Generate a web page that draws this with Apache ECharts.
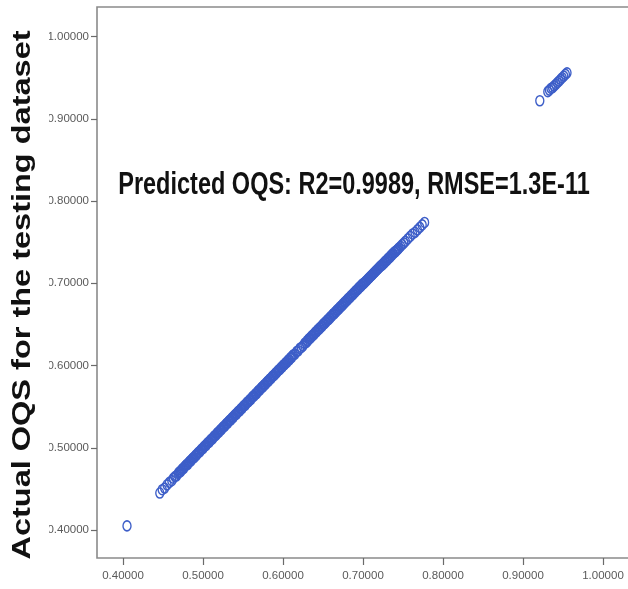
<!DOCTYPE html>
<html>
<head>
<meta charset="utf-8">
<script src="https://cdn.jsdelivr.net/npm/echarts@6/dist/echarts.min.js"></script>
<style>
  html, body { margin: 0; padding: 0; background: #fff; }
  #main { width: 628px; height: 589px; }
</style>
</head>
<body>
<div id="main"></div>
<script>
// predicted OQS (x) vs actual OQS (y), testing dataset
const predictedOQS = [
  0.405,
  0.446, 0.449, 0.452, 0.455, 0.458, 0.461, 0.463, 0.465, 0.467, 0.469,
  0.470, 0.471, 0.472, 0.473, 0.474, 0.475, 0.476, 0.477, 0.478, 0.479,
  0.480, 0.481, 0.482, 0.483, 0.484, 0.485, 0.486, 0.487, 0.488, 0.489,
  0.490, 0.491, 0.492, 0.493, 0.494, 0.495, 0.496, 0.497, 0.498, 0.499,
  0.500, 0.501, 0.502, 0.503, 0.504, 0.505, 0.506, 0.507, 0.508, 0.509,
  0.510, 0.511, 0.512, 0.513, 0.514, 0.515, 0.516, 0.517, 0.518, 0.519,
  0.520, 0.521, 0.522, 0.523, 0.524, 0.525, 0.526, 0.527, 0.528, 0.529,
  0.530, 0.531, 0.532, 0.533, 0.534, 0.535, 0.536, 0.537, 0.538, 0.539,
  0.540, 0.541, 0.542, 0.543, 0.544, 0.545, 0.546, 0.547, 0.548, 0.549,
  0.550, 0.551, 0.552, 0.553, 0.554, 0.555, 0.556, 0.557, 0.558, 0.559,
  0.560, 0.561, 0.562, 0.563, 0.564, 0.565, 0.566, 0.567, 0.568, 0.569,
  0.570, 0.571, 0.572, 0.573, 0.574, 0.575, 0.576, 0.577, 0.578, 0.579,
  0.580, 0.581, 0.582, 0.583, 0.584, 0.585, 0.586, 0.587, 0.588, 0.589,
  0.590, 0.591, 0.592, 0.593, 0.594, 0.595, 0.596, 0.597, 0.598, 0.599,
  0.600, 0.601, 0.602, 0.603, 0.604, 0.605, 0.606, 0.607, 0.608, 0.609,
  0.610, 0.611, 0.612, 0.613, 0.615, 0.617, 0.619, 0.621, 0.623, 0.625,
  0.627, 0.629, 0.630, 0.631, 0.632, 0.633, 0.634, 0.635, 0.636, 0.637,
  0.638, 0.639, 0.640, 0.641, 0.642, 0.643, 0.644, 0.645, 0.646, 0.647,
  0.648, 0.649, 0.650, 0.651, 0.652, 0.653, 0.654, 0.655, 0.656, 0.657,
  0.658, 0.659, 0.660, 0.661, 0.662, 0.663, 0.664, 0.665, 0.666, 0.667,
  0.668, 0.669, 0.670, 0.671, 0.672, 0.673, 0.674, 0.675, 0.676, 0.677,
  0.678, 0.679, 0.680, 0.681, 0.682, 0.683, 0.684, 0.685, 0.686, 0.687,
  0.688, 0.689, 0.690, 0.691, 0.692, 0.693, 0.694, 0.695, 0.696, 0.697,
  0.698, 0.699, 0.700, 0.701, 0.702, 0.703, 0.704, 0.705, 0.706, 0.707,
  0.708, 0.709, 0.710, 0.711, 0.712, 0.713, 0.714, 0.715, 0.716, 0.717,
  0.718, 0.719, 0.720, 0.721, 0.722, 0.723, 0.724, 0.725, 0.726, 0.727,
  0.728, 0.729, 0.730, 0.731, 0.732, 0.733, 0.734, 0.735, 0.736, 0.737,
  0.738, 0.739, 0.740, 0.741, 0.742, 0.743, 0.744, 0.745,
  0.747, 0.749, 0.751, 0.753, 0.756, 0.759, 0.762, 0.765, 0.768, 0.771,
  0.774, 0.777,
  0.921, 0.931, 0.933, 0.935, 0.937, 0.939, 0.941, 0.943, 0.945, 0.947,
  0.949, 0.951, 0.953, 0.955
];
const actualOQS = [
  0.405,
  0.445, 0.449, 0.451, 0.455, 0.458, 0.460, 0.463, 0.465, 0.466, 0.469,
  0.470, 0.471, 0.471, 0.473, 0.474, 0.475, 0.475, 0.477, 0.478, 0.479,
  0.480, 0.480, 0.482, 0.483, 0.484, 0.484, 0.486, 0.487, 0.488, 0.488,
  0.490, 0.491, 0.491, 0.493, 0.494, 0.495, 0.495, 0.497, 0.498, 0.499,
  0.499, 0.501, 0.502, 0.503, 0.503, 0.505, 0.506, 0.507, 0.507, 0.509,
  0.510, 0.511, 0.511, 0.513, 0.514, 0.515, 0.515, 0.517, 0.518, 0.519,
  0.519, 0.521, 0.522, 0.522, 0.524, 0.525, 0.526, 0.526, 0.528, 0.529,
  0.530, 0.530, 0.532, 0.533, 0.534, 0.534, 0.536, 0.537, 0.537, 0.539,
  0.540, 0.541, 0.541, 0.543, 0.544, 0.545, 0.545, 0.547, 0.548, 0.548,
  0.550, 0.551, 0.552, 0.552, 0.554, 0.555, 0.556, 0.556, 0.558, 0.559,
  0.559, 0.561, 0.562, 0.563, 0.563, 0.565, 0.566, 0.566, 0.568, 0.569,
  0.570, 0.570, 0.572, 0.573, 0.574, 0.574, 0.576, 0.577, 0.577, 0.579,
  0.580, 0.581, 0.581, 0.583, 0.584, 0.584, 0.586, 0.587, 0.588, 0.588,
  0.590, 0.591, 0.591, 0.593, 0.594, 0.595, 0.595, 0.597, 0.598, 0.598,
  0.600, 0.601, 0.601, 0.603, 0.604, 0.604, 0.606, 0.607, 0.607, 0.609,
  0.610, 0.610, 0.612, 0.613, 0.614, 0.617, 0.618, 0.621, 0.622, 0.624,
  0.627, 0.628, 0.630, 0.630, 0.632, 0.633, 0.633, 0.635, 0.636, 0.636,
  0.638, 0.638, 0.640, 0.641, 0.641, 0.643, 0.644, 0.644, 0.646, 0.646,
  0.648, 0.648, 0.650, 0.651, 0.651, 0.653, 0.653, 0.655, 0.656, 0.656,
  0.658, 0.658, 0.660, 0.660, 0.662, 0.663, 0.663, 0.665, 0.665, 0.667,
  0.667, 0.669, 0.669, 0.671, 0.671, 0.673, 0.673, 0.675, 0.675, 0.677,
  0.677, 0.679, 0.679, 0.681, 0.681, 0.683, 0.683, 0.685, 0.685, 0.687,
  0.687, 0.689, 0.689, 0.691, 0.691, 0.693, 0.693, 0.695, 0.695, 0.697,
  0.697, 0.699, 0.699, 0.700, 0.701, 0.702, 0.703, 0.704, 0.705, 0.706,
  0.707, 0.708, 0.709, 0.710, 0.711, 0.712, 0.713, 0.714, 0.715, 0.716,
  0.717, 0.718, 0.719, 0.720, 0.721, 0.722, 0.722, 0.724, 0.724, 0.726,
  0.726, 0.728, 0.728, 0.730, 0.730, 0.732, 0.732, 0.734, 0.734, 0.736,
  0.736, 0.738, 0.738, 0.739, 0.740, 0.741, 0.742, 0.743,
  0.745, 0.747, 0.749, 0.751, 0.754, 0.757, 0.760, 0.762, 0.765, 0.768,
  0.771, 0.774,
  0.922, 0.933, 0.935, 0.937, 0.938, 0.940, 0.942, 0.944, 0.946, 0.948,
  0.950, 0.952, 0.954, 0.956
];
const tickValues = [0.4, 0.5, 0.6, 0.7, 0.8, 0.9, 1.0];
const yAxisTitle = 'Actual OQS for the testing dataset';
const fitText = 'Predicted OQS: R2=0.9989, RMSE=1.3E-11';

const points = predictedOQS.map((p, i) => [p, actualOQS[i]]);

const labelFont = "'Liberation Sans', Arial, sans-serif";

const chart = echarts.init(document.getElementById('main'), null, { renderer: 'canvas' });
chart.setOption({
  animation: false,
  backgroundColor: '#fff',
  grid: {
    left: 97,
    right: -4,
    top: 7,
    bottom: 31,
    outerBoundsMode: 'none',
    show: true,
    borderColor: '#8a8a8a',
    borderWidth: 1.6
  },
  xAxis: {
    type: 'value',
    min: 0.3675,
    max: 1.03625,
    axisLine: { show: false },
    splitLine: { show: false },
    axisTick: {
      show: true,
      length: 7,
      customValues: tickValues,
      lineStyle: { color: '#6a6a6a', width: 1.2 }
    },
    axisLabel: {
      customValues: tickValues,
      margin: 12,
      color: '#5a5a5a',
      fontFamily: labelFont,
      fontSize: 11.5,
      formatter: v => v.toFixed(5)
    }
  },
  yAxis: {
    type: 'value',
    min: 0.366,
    max: 1.036,
    axisLine: { show: false },
    splitLine: { show: false },
    axisTick: {
      show: true,
      length: 6,
      customValues: tickValues,
      lineStyle: { color: '#6a6a6a', width: 1.2 }
    },
    axisLabel: {
      customValues: tickValues,
      margin: 8,
      color: '#5a5a5a',
      fontFamily: labelFont,
      fontSize: 11.5,
      formatter: v => v.toFixed(5)
    }
  },
  graphic: [
    {
      type: 'rect',
      z: 100,
      shape: { x: 0, y: 0, width: 49, height: 589 },
      style: { fill: '#fff' }
    },
    {
      type: 'text',
      z: 101,
      x: 23,
      y: 295,
      rotation: Math.PI / 2,
      scaleX: 1.3,
      style: {
        text: yAxisTitle,
        font: "bold 25px 'Liberation Sans', Arial, sans-serif",
        fill: '#111',
        align: 'center',
        verticalAlign: 'middle'
      }
    },
    {
      type: 'text',
      z: 101,
      x: 354,
      y: 186,
      scaleY: 1.3,
      style: {
        text: fitText,
        font: "bold 23.5px 'Liberation Sans', Arial, sans-serif",
        fill: '#111',
        align: 'center',
        verticalAlign: 'middle'
      }
    }
  ],
  series: [
    {
      type: 'scatter',
      data: points,
      symbol: 'circle',
      symbolSize: [8, 10],
      itemStyle: {
        color: 'rgba(0,0,0,0)',
        borderColor: '#3d5ec8',
        borderWidth: 1.5,
        opacity: 1
      },
      emphasis: { disabled: true }
    }
  ]
});
</script>
</body>
</html>
